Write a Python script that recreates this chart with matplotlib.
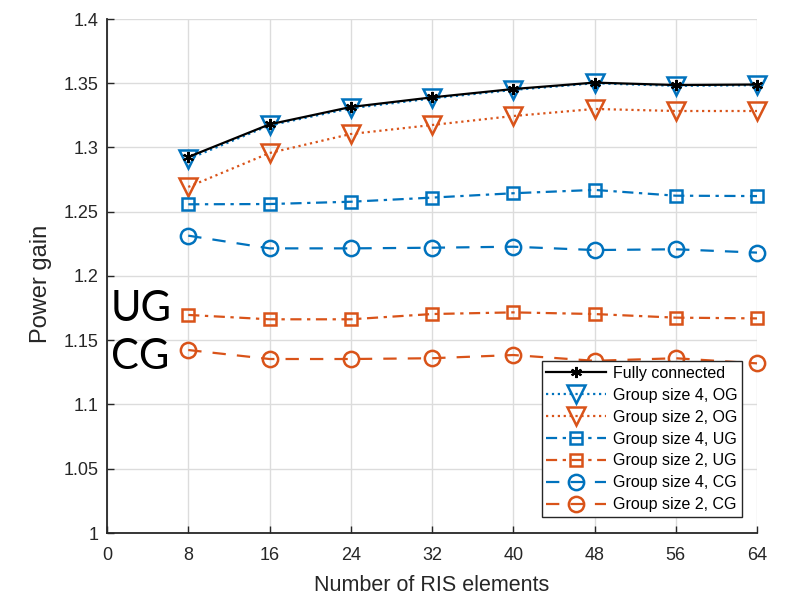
import matplotlib
matplotlib.use("Agg")
import matplotlib.pyplot as plt

plt.rcParams['font.family'] = ['Liberation Sans', 'DejaVu Sans']

n_elements = [8, 16, 24, 32, 40, 48, 56, 64]
fully_connected = [1.2926, 1.318, 1.3315, 1.339, 1.3455, 1.3505, 1.3486, 1.349]
g4_og = [1.291, 1.3172, 1.3305, 1.3382, 1.3448, 1.3500, 1.3480, 1.3485]
g2_og = [1.2693, 1.2957, 1.3105, 1.3175, 1.3245, 1.3300, 1.3284, 1.3284]
g4_ug = [1.2558, 1.2560, 1.2578, 1.2610, 1.2644, 1.2670, 1.2625, 1.2622]
g2_ug = [1.1697, 1.1663, 1.1663, 1.1704, 1.1717, 1.1704, 1.1676, 1.1670]
g4_cg = [1.2314, 1.2215, 1.2215, 1.2220, 1.2228, 1.2202, 1.2208, 1.2182]
g2_cg = [1.1424, 1.1354, 1.1354, 1.1360, 1.1385, 1.1340, 1.1360, 1.1320]

xticks = [0, 8, 16, 24, 32, 40, 48, 56, 64]
yticks = [1, 1.05, 1.1, 1.15, 1.2, 1.25, 1.3, 1.35, 1.4]
ytick_labels = ['1', '1.05', '1.1', '1.15', '1.2', '1.25', '1.3', '1.35', '1.4']

BLUE = '#0072BD'
ORANGE = '#D95319'

fig = plt.figure(figsize=(7.87, 5.95), dpi=100)
ax = fig.add_axes([107/787, 62/595, 650/787, 514/595])

lw = 1.6
common = dict(lw=lw, clip_on=False)
ax.plot(n_elements, fully_connected, color='black', ls='-',
        marker=(6, 2, 0), ms=8, mew=1.5, label='Fully connected', zorder=5, **common)
ax.plot(n_elements, g4_og, color=BLUE, ls=':', marker='v', ms=13,
        mfc='none', mew=1.8, label='Group size 4, OG', zorder=4, **common)
ax.plot(n_elements, g2_og, color=ORANGE, ls=':', marker='v', ms=13,
        mfc='none', mew=1.8, label='Group size 2, OG', **common)
ax.plot(n_elements, g4_ug, color=BLUE, ls=(0, (5, 2.5, 1.5, 2.5)), marker='s', ms=9,
        mfc='none', mew=1.8, label='Group size 4, UG', **common)
ax.plot(n_elements, g2_ug, color=ORANGE, ls=(0, (5, 2.5, 1.5, 2.5)), marker='s', ms=9,
        mfc='none', mew=1.8, label='Group size 2, UG', **common)
ax.plot(n_elements, g4_cg, color=BLUE, ls=(0, (6, 5)), marker='o', ms=11,
        mfc='none', mew=1.8, label='Group size 4, CG', **common)
ax.plot(n_elements, g2_cg, color=ORANGE, ls=(0, (6, 5)), marker='o', ms=11,
        mfc='none', mew=1.8, label='Group size 2, CG', **common)

ax.set_xlim(0, 64)
ax.set_ylim(1, 1.4)
ax.set_xticks(xticks)
ax.set_yticks(yticks)
ax.set_yticklabels(ytick_labels)
ax.grid(True, color='#DCDCDC', lw=1.0)
ax.set_axisbelow(True)
for s in ['top', 'right']:
    ax.spines[s].set_visible(False)
for s in ['left', 'bottom']:
    ax.spines[s].set_color('#262626')
    ax.spines[s].set_linewidth(1.3)
ax.tick_params(axis='both', labelsize=13, colors='#262626', direction='in', length=5, width=1.0)
ax.tick_params(axis='x', pad=10)
ax.tick_params(axis='y', pad=6)
ax.set_xlabel('Number of RIS elements', fontsize=15.5, color='#262626')
ax.set_ylabel('Power gain', fontsize=17, color='#262626')
ax.xaxis.set_label_coords(0.5, -(575 - 533) / 514)
ax.yaxis.set_label_coords(-(107 - 52) / 650, (533 - 284) / 514)

leg = ax.legend(loc='lower right', fontsize=11.5, frameon=True, fancybox=False,
                edgecolor='#262626', framealpha=1, handlelength=3.75,
                borderpad=0.3, labelspacing=0.43, handletextpad=0.4,
                borderaxespad=0,
                bbox_to_anchor=((742 - 107) / 650, (533 - 517) / 514))
leg.get_frame().set_linewidth(1.0)

fig.text(111/787, 1 - 309/595, 'UG', fontsize=30, family='Lato', va='center', ha='left')
fig.text(111/787, 1 - 357/595, 'CG', fontsize=30, family='Lato', va='center', ha='left')

fig.savefig('out.png', dpi=100)
